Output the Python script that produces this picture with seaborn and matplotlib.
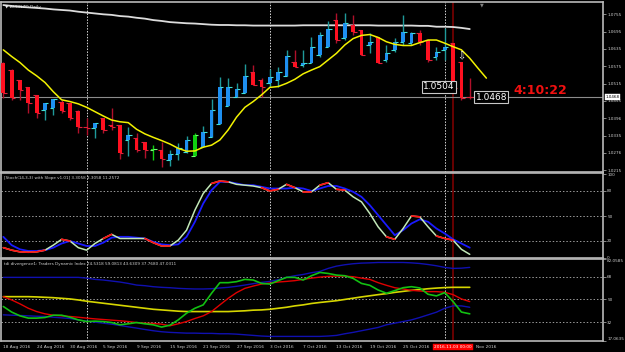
import numpy as np
import pandas as pd
import matplotlib
matplotlib.use("Agg")
import matplotlib.pyplot as plt
import matplotlib.transforms as mtrans
import seaborn as sns

# ---------------- data ----------------
opens = [1.0585, 1.0562, 1.0528, 1.0505, 1.0476, 1.0424, 1.0430, 1.0453, 1.0447, 1.0421,
         1.0366, 1.0360, 1.0395, 1.0372, 1.0372, 1.0320, 1.0326, 1.0314, 1.0286, 1.0286,
         1.0251, 1.0270, 1.0280, 1.0263, 1.0297, 1.0330, 1.0376, 1.0438, 1.0468, 1.0482,
         1.0556, 1.0528, 1.0516, 1.0528, 1.0542, 1.0591, 1.0580, 1.0585, 1.0614, 1.0643,
         1.0735, 1.0672, 1.0718, 1.0701, 1.0650, 1.0678, 1.0597, 1.0632, 1.0660, 1.0655,
         1.0689, 1.0666, 1.0608, 1.0632, 1.0655, 1.0591, 1.0468]
highs = [1.0591, 1.0565, 1.0528, 1.0505, 1.0476, 1.0447, 1.0461, 1.0459, 1.0447, 1.0424,
         1.0395, 1.0378, 1.0395, 1.0430, 1.0372, 1.0366, 1.0343, 1.0314, 1.0303, 1.0314,
         1.0286, 1.0309, 1.0334, 1.0343, 1.0369, 1.0461, 1.0539, 1.0533, 1.0516, 1.0583,
         1.0580, 1.0533, 1.0565, 1.0574, 1.0632, 1.0632, 1.0632, 1.0678, 1.0695, 1.0733,
         1.0758, 1.0758, 1.0752, 1.0701, 1.0689, 1.0678, 1.0649, 1.0672, 1.0752, 1.0695,
         1.0701, 1.0666, 1.0643, 1.0707, 1.0655, 1.0591, 1.0533]
lows = [1.0464, 1.0459, 1.0459, 1.0413, 1.0395, 1.0389, 1.0407, 1.0413, 1.0389, 1.0343,
        1.0337, 1.0326, 1.0343, 1.0355, 1.0253, 1.0263, 1.0280, 1.0257, 1.0249, 1.0228,
        1.0231, 1.0251, 1.0274, 1.0263, 1.0297, 1.0330, 1.0376, 1.0438, 1.0468, 1.0482,
        1.0511, 1.0470, 1.0505, 1.0505, 1.0542, 1.0574, 1.0574, 1.0585, 1.0608, 1.0643,
        1.0655, 1.0666, 1.0683, 1.0614, 1.0620, 1.0585, 1.0591, 1.0626, 1.0649, 1.0649,
        1.0649, 1.0591, 1.0597, 1.0597, 1.0493, 1.0459, 1.0461]
closes = [1.0482, 1.0464, 1.0493, 1.0447, 1.0413, 1.0447, 1.0461, 1.0419, 1.0395, 1.0366,
          1.0360, 1.0378, 1.0355, 1.0366, 1.0274, 1.0337, 1.0286, 1.0286, 1.0288, 1.0254,
          1.0270, 1.0292, 1.0320, 1.0337, 1.0349, 1.0424, 1.0503, 1.0503, 1.0496, 1.0542,
          1.0511, 1.0505, 1.0539, 1.0556, 1.0609, 1.0574, 1.0585, 1.0643, 1.0683, 1.0703,
          1.0666, 1.0724, 1.0695, 1.0614, 1.0660, 1.0585, 1.0620, 1.0660, 1.0695, 1.0689,
          1.0660, 1.0597, 1.0626, 1.0643, 1.0499, 1.0464, 1.0468]

ma_slow = [1.0787, 1.0784, 1.0781, 1.0779, 1.0777, 1.0775, 1.0772, 1.0770, 1.0768, 1.0764,
           1.0761, 1.0758, 1.0755, 1.0753, 1.0749, 1.0747, 1.0743, 1.0740, 1.0735, 1.0732,
           1.0728, 1.0726, 1.0724, 1.0723, 1.0721, 1.0719, 1.0718, 1.0718, 1.0717, 1.0717,
           1.0716, 1.0716, 1.0716, 1.0716, 1.0716, 1.0716, 1.0717, 1.0717, 1.0717, 1.0717,
           1.0717, 1.0717, 1.0717, 1.0717, 1.0717, 1.0716, 1.0716, 1.0716, 1.0716, 1.0716,
           1.0715, 1.0715, 1.0712, 1.0712, 1.0711, 1.0708, 1.0704]
ma_fast = [1.0632, 1.0609, 1.0588, 1.0562, 1.0542, 1.0519, 1.0487, 1.0459, 1.0453, 1.0445,
           1.0433, 1.0418, 1.0403, 1.0389, 1.0383, 1.0380, 1.0357, 1.0341, 1.0329, 1.0318,
           1.0306, 1.0291, 1.0281, 1.0282, 1.0295, 1.0302, 1.0320, 1.0355, 1.0399, 1.0433,
           1.0453, 1.0476, 1.0502, 1.0505, 1.0516, 1.0530, 1.0549, 1.0562, 1.0574, 1.0597,
           1.0620, 1.0649, 1.0671, 1.0682, 1.0685, 1.0675, 1.0660, 1.0651, 1.0647, 1.0647,
           1.0657, 1.0666, 1.0666, 1.0655, 1.0643, 1.0632, 1.0603, 1.0568, 1.0534]

stoch_k = [12, 9, 7, 6.5, 7, 9, 15, 22, 20, 12, 9, 17, 23, 28, 23, 23, 23, 23, 18, 14,
           14, 21, 33, 57, 77, 89, 92, 91, 88, 87, 86, 84, 80, 82, 88, 84, 79, 79, 87, 90,
           82, 81, 73, 67, 53, 37, 25, 22, 35, 50, 49, 37, 26, 23, 21, 10, 4]
stoch_d = [25, 15, 10, 8, 8, 9, 12, 17, 20, 17, 14, 14, 18, 24, 25, 25, 24, 23, 19, 16,
           15, 16, 25, 43, 65, 81, 91, 91, 89, 87, 87, 85, 83, 83, 83, 84, 83, 80, 83, 86,
           86, 83, 79, 73, 63, 51, 39, 27, 33, 41, 46, 43, 35, 29, 22, 17, 12]
stoch_down_segments = [(0, 5), (7, 8), (12, 13), (17, 20), (25, 27), (31, 33), (34, 35),
                       (36, 37), (38, 39), (40, 41), (46, 47), (49, 50), (52, 54)]

tdi_upper = [67.5, 67.5, 67.5, 67.5, 67.5, 67.5, 67.5, 67.5, 67.5, 67.5,
             66.9, 65.9, 65.4, 64.6, 63.8, 62.7, 61.4, 60.9, 60.1, 59.6,
             59.3, 58.8, 58.5, 58.3, 58.3, 58.5, 59.1, 59.6, 60.4, 61.4,
             62.5, 63.5, 64.3, 65.6, 67.5, 68.8, 69.8, 71.2, 72.2, 74.6,
             76.4, 77.5, 78.3, 78.8, 79.0, 79.3, 79.3, 79.3, 79.3, 79.0,
             78.5, 77.7, 76.7, 75.4, 74.6, 74.8, 75.4]
tdi_lower = [37.8, 37.5, 37.3, 37.0, 36.7, 36.5, 35.9, 35.4, 34.9, 33.8,
             32.8, 32.0, 31.2, 30.4, 29.4, 28.3, 27.3, 26.2, 25.2, 24.4,
             23.9, 23.6, 23.3, 23.3, 23.1, 23.1, 22.8, 22.8, 22.5, 22.0,
             21.5, 21.0, 20.7, 20.7, 20.7, 20.7, 20.7, 20.7, 20.7, 21.0,
             21.5, 22.8, 23.9, 25.2, 26.5, 27.8, 29.9, 31.2, 32.5, 33.8,
             35.7, 37.8, 39.9, 43.0, 44.9, 44.9, 43.8]
tdi_mid = [52.2, 52.2, 52.2, 52.2, 52.0, 51.7, 51.4, 50.9, 50.4, 49.6,
           48.6, 47.8, 47.0, 46.2, 45.4, 44.6, 43.8, 43.0, 42.2, 41.7,
           41.2, 40.7, 40.4, 40.4, 40.4, 40.4, 40.4, 40.4, 40.7, 41.0,
           41.5, 41.7, 42.2, 43.0, 43.8, 44.9, 45.7, 46.8, 47.6, 48.3,
           49.0, 50.0, 51.0, 52.0, 52.9, 53.8, 54.6, 55.6, 56.4, 57.2,
           57.8, 58.5, 59.0, 59.4, 59.6, 59.6, 59.6]
tdi_signal = [52.2, 49.6, 46.5, 43.0, 40.4, 38.6, 37.5, 37.0, 36.5, 35.9,
              35.2, 34.6, 34.1, 33.6, 33.1, 32.5, 31.7, 31.2, 31.0, 30.4,
              29.1, 30.7, 32.5, 34.9, 37.0, 40.4, 45.7, 50.9, 55.4, 58.8,
              60.6, 62.2, 63.0, 63.8, 64.3, 64.9, 65.9, 66.9, 67.7, 68.3,
              68.5, 68.5, 68.0, 66.9, 65.9, 63.3, 61.2, 59.3, 58.3, 57.2,
              56.7, 56.2, 56.2, 55.7, 53.8, 50.4, 48.3]
tdi_rsi = [44.4, 40.0, 37.0, 35.2, 35.2, 35.7, 37.5, 37.5, 35.9, 33.8,
           32.5, 32.8, 32.5, 31.7, 29.9, 30.7, 31.7, 30.7, 29.9, 28.1,
           29.6, 33.8, 39.1, 43.0, 45.7, 54.9, 63.3, 63.3, 64.1, 65.9,
           65.4, 62.7, 62.2, 64.9, 67.5, 67.5, 65.4, 68.8, 71.4, 70.6,
           69.3, 68.8, 66.7, 62.7, 61.2, 57.5, 54.9, 57.0, 59.3, 60.1,
           59.1, 54.1, 52.8, 55.4, 48.3, 40.0, 38.6]

date_labels = ["18 Aug 2016", "24 Aug 2016", "30 Aug 2016", "5 Sep 2016", "9 Sep 2016",
               "15 Sep 2016", "21 Sep 2016", "27 Sep 2016", "3 Oct 2016", "7 Oct 2016",
               "13 Oct 2016", "19 Oct 2016", "25 Oct 2016", "Nov 2016"]
date_label_bars = [0, 4, 8, 12, 16, 20, 24, 28, 32, 36, 40, 44, 48, 56.8]
month_start_bars = [10, 32, 53]
cursor_bar = 54
cursor_label = "2016.11.03 00:00"

price_ticks = [1.0755, 1.0695, 1.0635, 1.0575, 1.0515, 1.0455, 1.0396, 1.0335, 1.0276, 1.0215]
stoch_ticks = [100, 80, 50, 20, 0]
stoch_levels = [80, 50, 20]
tdi_ticks = [82.0585, 68, 50, 32, 17.0635]
tdi_levels = [68, 50, 32]
last_price = 1.0468
marked_price = 1.0504
timer_text = "4:10:22"
green_bars = [18, 23]

# ---------------- style ----------------
sns.set_theme(style="dark", rc={"axes.facecolor": "black", "figure.facecolor": "black",
                                "axes.grid": False})
plt.rcParams['font.family'] = ['DejaVu Sans']

W, H = 625, 352
fig = plt.figure(figsize=(W / 100, H / 100), dpi=100)
fig.patch.set_facecolor("black")


def add(x0, y0, x1, y1):
    return fig.add_axes([x0 / W, 1 - y1 / H, (x1 - x0) / W, (y1 - y0) / H])


ax1 = add(1, 2, 603, 172)
ax2 = add(1, 173, 603, 258)
ax3 = add(1, 259, 603, 341)

XL = (-0.28, 72.0)
TXT = "#d0d0d0"
for ax in (ax1, ax2, ax3):
    ax.set_facecolor("black")
    ax.set_xlim(*XL)
    ax.set_xticks([])
    for s in ax.spines.values():
        s.set_color("#b8b8b8")
        s.set_linewidth(1.2)
    ax.yaxis.tick_right()
    ax.tick_params(axis='y', colors="#a0a0a0", labelcolor=TXT, labelsize=3,
                   length=2, width=0.6, pad=1, direction='out')
    for b in month_start_bars:
        ax.axvline(b, color="#d8d8d8", ls=(0, (1.5, 1.5)), lw=0.7, zorder=1)
    ax.axvline(cursor_bar, color="#7a0000", lw=1.2, zorder=1)

# ---------------- main panel ----------------
n = len(opens)
idx = np.arange(n)
o = np.array(opens); c = np.array(closes); hi = np.array(highs); lo = np.array(lows)
bull = c > o
body_col, wick_col, tick_col = [], [], []
for i in range(n):
    if i in green_bars:
        body_col.append("#10d010"); wick_col.append("#10d010"); tick_col.append("#70ff70")
    elif bull[i]:
        body_col.append("#1e8ff0"); wick_col.append("#1f9a9a"); tick_col.append("#40e0d8")
    else:
        body_col.append("#ff1020"); wick_col.append("#b0102a"); tick_col.append("#e0203a")

ax1.vlines(idx, lo, hi, colors=wick_col, lw=1.0, zorder=3)
body_b = np.minimum(o, c)
body_h = np.maximum(np.abs(c - o), 0.00008)
ax1.bar(idx, body_h, bottom=body_b, width=0.45, color=body_col, linewidth=0, zorder=4)
ax1.hlines(c, idx, idx + 0.42, colors=tick_col, lw=0.8, zorder=5)
ax1.hlines(o, idx - 0.42, idx, colors=tick_col, lw=0.8, zorder=5)

sns.lineplot(x=np.arange(len(ma_slow)), y=ma_slow, ax=ax1, color="#dcdcdc", lw=1.3, zorder=2)
sns.lineplot(x=np.arange(len(ma_fast)), y=ma_fast, ax=ax1, color="#f2f200", lw=1.1, zorder=6)
ax1.axhline(last_price, color="#8c8c8c", lw=0.8, zorder=1)

ax1.set_ylim(1.02091, 1.07976)
ax1.set_yticks(price_ticks)
ax1.set_yticklabels([f"{v:.4f}" for v in price_ticks])
ax1.set_ylabel("")

ax1.text(0.006, 0.985, "\u25bc AUDNZD,Daily", transform=ax1.transAxes, color="#e8e8e8",
         fontsize=3.2, ha="left", va="top", zorder=7)
ax1.text(57.5, 1.0795, "\u25bc", color="#808080", fontsize=3.5, ha="center", va="top")
ax1.text(52.3, marked_price, f"{marked_price:.4f}", color="white", fontsize=6.5,
         ha="center", va="center", zorder=8,
         bbox=dict(boxstyle="square,pad=0.15", fc="black", ec="#c8c8c8", lw=0.8))
ax1.text(58.6, last_price, f"{last_price:.4f}", color="white", fontsize=6.5,
         ha="center", va="center", zorder=8,
         bbox=dict(boxstyle="square,pad=0.15", fc="black", ec="#c8c8c8", lw=0.8))
ax1.text(61.3, 1.0490, timer_text, color="#f01010", fontsize=9, fontweight="bold",
         ha="left", va="center", zorder=8)
ax1.text(55, 1.0611, "\u21e9", color="white", fontsize=7, ha="center", va="center", zorder=8)
tr = mtrans.blended_transform_factory(ax1.transAxes, ax1.transData)
ax1.text(1.004, last_price, f"{last_price:.4f}", transform=tr, color="black", fontsize=3,
         ha="left", va="center", zorder=9,
         bbox=dict(boxstyle="square,pad=0.2", fc="white", ec="white", lw=0.3))

# ---------------- stochastic panel ----------------
for lv in stoch_levels:
    ax2.axhline(lv, color="#9a9a9a", ls=(0, (1.5, 2)), lw=0.7, zorder=1)
sns.lineplot(x=idx, y=stoch_d, ax=ax2, color="#1a1aff", lw=1.3, zorder=3)
sns.lineplot(x=idx, y=stoch_k, ax=ax2, color="#c2e8b8", lw=1.1, zorder=4)
k = np.array(stoch_k)
for a, b in stoch_down_segments:
    sl = np.arange(a, b + 1)
    sns.lineplot(x=sl, y=k[a:b + 1], ax=ax2, color="#ff1010", lw=1.2, zorder=5)
ax2.set_ylim(-0.4, 101.6)
ax2.set_yticks(stoch_ticks)
ax2.set_yticklabels([str(v) for v in stoch_ticks])
ax2.set_ylabel("")
ax2.text(0.005, 0.96, "[Stoch(14,3,3) with Slope v1.01] 3.3058 3.3058 11.2572",
         transform=ax2.transAxes, color=TXT, fontsize=3, ha="left", va="top")

# ---------------- TDI panel ----------------
for lv in tdi_levels:
    ax3.axhline(lv, color="#9a9a9a", ls=(0, (1.5, 2)), lw=0.7, zorder=1)
sns.lineplot(x=idx, y=tdi_upper, ax=ax3, color="#1010b0", lw=1.0, zorder=2)
sns.lineplot(x=idx, y=tdi_lower, ax=ax3, color="#1010b0", lw=1.0, zorder=2)
sns.lineplot(x=idx, y=tdi_mid, ax=ax3, color="#d6d600", lw=1.2, zorder=3)
sns.lineplot(x=idx, y=tdi_signal, ax=ax3, color="#e00000", lw=1.0, zorder=4)
sns.lineplot(x=idx, y=tdi_rsi, ax=ax3, color="#12c012", lw=1.2, zorder=5)
ax3.set_ylim(tdi_ticks[-1], tdi_ticks[0])
ax3.set_yticks(tdi_ticks)
ax3.set_yticklabels(["82.0585", "68", "50", "32", "17.0635"])
labs = ax3.get_yticklabels()
labs[0].set_verticalalignment("top")
labs[-1].set_verticalalignment("bottom")
ax3.set_ylabel("")
ax3.text(0.005, 0.96,
         "tdi divergence1: Traders Dynamic Index 74.5318 59.0813 43.6309 37.7680 47.0311",
         transform=ax3.transAxes, color=TXT, fontsize=3, ha="left", va="top")

trx = mtrans.blended_transform_factory(ax3.transData, ax3.transAxes)
for b, lab in zip(date_label_bars, date_labels):
    ax3.text(b, -0.075, lab, transform=trx, color=TXT, fontsize=3.1, ha="left", va="center",
             clip_on=False)
ax3.text(cursor_bar, -0.075, cursor_label, transform=trx, color="white", fontsize=3.1,
         ha="center", va="center", clip_on=False, zorder=10,
         bbox=dict(boxstyle="square,pad=0.25", fc="#ff0000", ec="#ff0000", lw=0.3))

fig.savefig("out.png", dpi=100, facecolor="black")
